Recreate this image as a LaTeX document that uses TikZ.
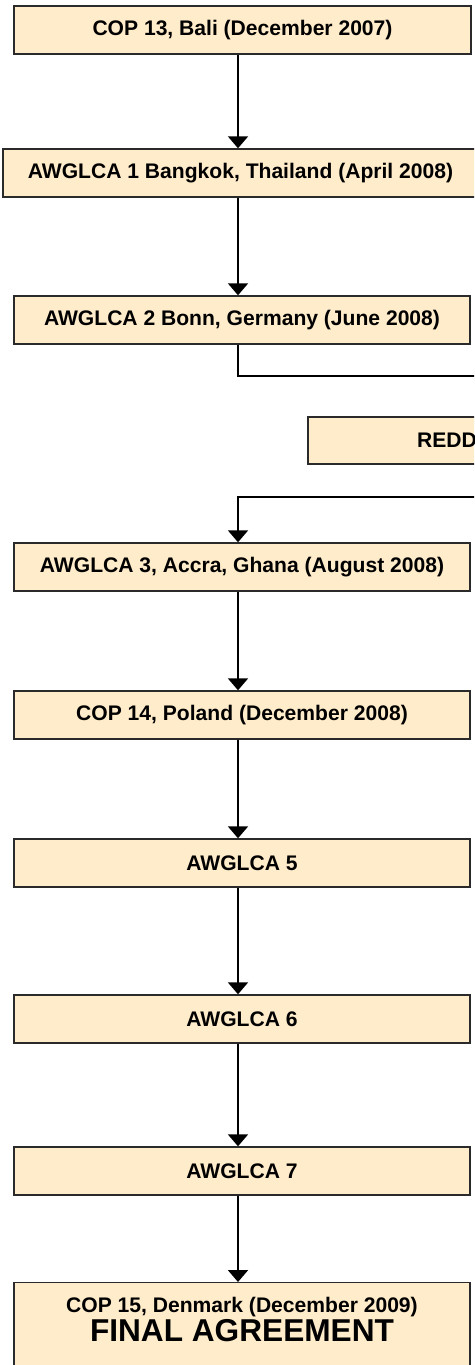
\documentclass[tikz,border=0pt]{standalone}
\usepackage{fontspec}
\setmainfont{Liberation Sans}
\usetikzlibrary{arrows.meta}
\definecolor{boxfill}{HTML}{FFECCB}
\definecolor{boxline}{HTML}{2A2A2A}

\begin{document}
\begin{tikzpicture}[x=0.02cm, y=-0.02cm,
  stage/.style = {draw=boxline, fill=boxfill, line width=0.8pt, rectangle, inner sep=0pt,
                  minimum height=0.96cm, font=\fontsize{12}{14}\selectfont\bfseries},
  flow/.style  = {line width=0.04cm, -{Triangle[width=0.4cm, length=0.24cm]}},
  link/.style  = {line width=0.04cm}]

\clip (0,0) rectangle (474,1365);

\coordinate (spine) at (238,0);

% meetings, top to bottom
\node[stage, minimum width=9.14cm] (cop13) at (242.5,30) {COP 13, Bali (December 2007)};
\node[stage, minimum width=9.5cm] (awg1) at (240.5,173) {AWGLCA 1 Bangkok, Thailand (April 2008)};
\node[stage, minimum width=9.12cm] (awg2) at (242,320) {AWGLCA 2 Bonn, Germany (June 2008)};
\node[stage, minimum width=5.56cm, minimum height=0.94cm] (redd) at (447,440.5) {REDD};
\node[stage, minimum width=9.12cm] (awg3) at (242,567) {AWGLCA 3, Accra, Ghana (August 2008)};
\node[stage, minimum width=9.12cm] (cop14) at (242,715) {COP 14, Poland (December 2008)};
\node[stage, minimum width=9.12cm] (awg5) at (242,863) {AWGLCA 5};
\node[stage, minimum width=9.12cm] (awg6) at (242,1019) {AWGLCA 6};
\node[stage, minimum width=9.12cm] (awg7) at (242,1171) {AWGLCA 7};
\node[stage, minimum width=9.12cm, anchor=north, inner ysep=8pt, align=center] (cop15) at (242,1282)
  {COP 15, Denmark (December 2009)\\[0.5pt]
   {\fontsize{18}{20}\selectfont FINAL AGREEMENT}\rule[-0.8cm]{0pt}{0.8cm}};

\draw[flow] (cop13.south -| spine) -- (awg1.north -| spine);
\draw[flow] (awg1.south -| spine) -- (awg2.north -| spine);

% side track to REDD and back
\coordinate (outA) at (500,376);
\coordinate (outB) at (500,497);
\draw[link] (awg2.south -| spine) |- (outA);
\draw[flow] (outB) -| (awg3.north -| spine);

\draw[flow] (awg3.south -| spine) -- (cop14.north -| spine);
\draw[flow] (cop14.south -| spine) -- (awg5.north -| spine);
\draw[flow] (awg5.south -| spine) -- (awg6.north -| spine);
\draw[flow] (awg6.south -| spine) -- (awg7.north -| spine);
\draw[flow] (awg7.south -| spine) -- (cop15.north -| spine);

\end{tikzpicture}
\end{document}
